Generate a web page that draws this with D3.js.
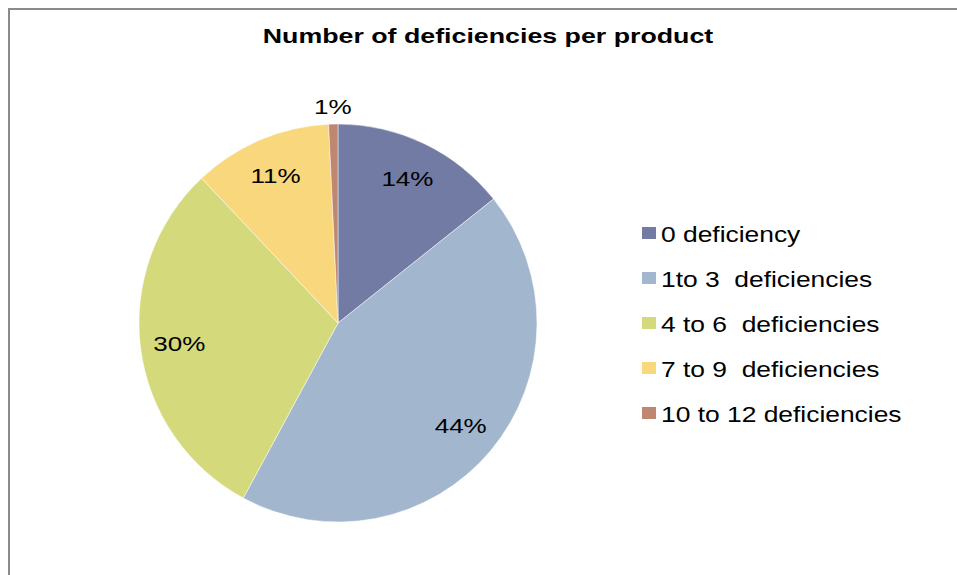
<!DOCTYPE html>
<html>
<head>
<meta charset="utf-8">
<script src="https://cdn.jsdelivr.net/npm/d3@7"></script>
<style>
html, body { margin: 0; padding: 0; background: #fff; }
svg { display: block; }
text { font-family: "Liberation Sans", Arial, sans-serif; fill: #000; }
</style>
</head>
<body>
<svg id="chart" width="957" height="575"></svg>
<script>
const title = "Number of deficiencies per product";
const categories = ["0 deficiency", "1to 3  deficiencies", "4 to 6  deficiencies", "7 to 9  deficiencies", "10 to 12 deficiencies"];
const values = [19, 58, 40, 15, 1];
const colors = ["#717BA3", "#A2B7CD", "#D4DA7C", "#F9D87D", "#BF8670"];

const svg = d3.select("#chart");
const sx = 1.24; // horizontal text stretch of reference

// frame
svg.append("rect").attr("x", 9).attr("y", 9).attr("width", 1200).attr("height", 1200)
  .attr("fill", "none").attr("stroke", "#8a8a8a").attr("stroke-width", 2);

// title
svg.append("text")
  .attr("transform", `translate(488,43) scale(1.275,1)`)
  .attr("text-anchor", "middle")
  .attr("font-size", 21).attr("font-weight", "bold")
  .text(title);

const cx = 338, cy = 323, R = 199;
const total = d3.sum(values);
const pie = d3.pie().sort(null).value(d => d)(values);
const arc = d3.arc().innerRadius(0).outerRadius(R);

const g = svg.append("g").attr("transform", `translate(${cx},${cy})`);
g.selectAll("path").data(pie).join("path")
  .attr("d", arc)
  .attr("fill", (d, i) => colors[i])
  .attr("stroke", "#ffffff").attr("stroke-width", 0.6).attr("stroke-opacity", 0.8);

const inLabel = d3.arc().innerRadius(160).outerRadius(160);
const outLabel = d3.arc().innerRadius(R + 18).outerRadius(R + 18);
g.selectAll("text.lbl").data(pie).join("text")
  .attr("class", "lbl")
  .attr("transform", d => {
    const p = (d.value / total < 0.03 ? outLabel : inLabel).centroid(d);
    return `translate(${p[0]},${p[1]}) scale(${sx},1)`;
  })
  .attr("text-anchor", "middle")
  .attr("dy", "0.36em")
  .attr("font-size", 21)
  .text(d => Math.round(d.value / total * 100) + "%");

// legend
const lg = svg.append("g");
const rows = lg.selectAll("g").data(categories).join("g")
  .attr("transform", (d, i) => `translate(642,${242 + i * 45})`);
rows.append("rect").attr("x", 0).attr("y", -15).attr("width", 14).attr("height", 12)
  .attr("fill", (d, i) => colors[i]);
rows.append("text")
  .attr("transform", `translate(19,0) scale(1.2,1)`)
  .attr("font-size", 22)
  .style("white-space", "pre")
  .attr("xml:space", "preserve")
  .text(d => d);
</script>
</body>
</html>
